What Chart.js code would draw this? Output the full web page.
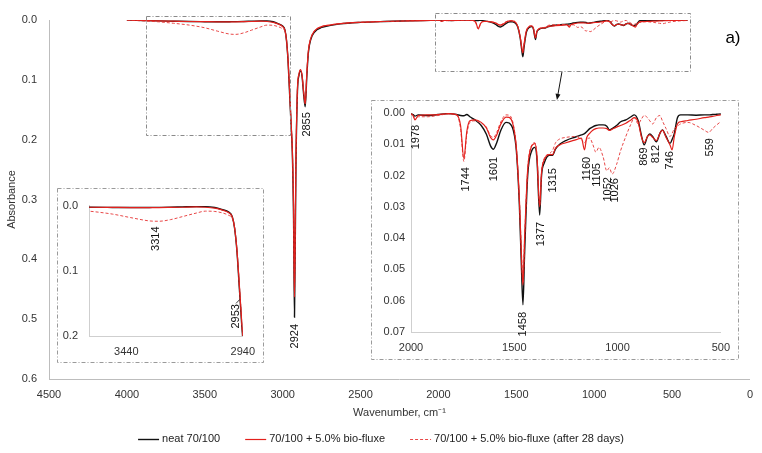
<!DOCTYPE html>
<html><head><meta charset="utf-8">
<script src="https://cdn.jsdelivr.net/npm/chart.js@4/dist/chart.umd.min.js"></script>
<style>
html,body{margin:0;padding:0;background:#fff;}
#wrap{position:relative;width:762px;height:453px;overflow:hidden;}
canvas{position:absolute;display:block;}
#main{left:0;top:0;}
#insetR{left:371px;top:100px;}
#insetL{left:57px;top:188px;}
</style></head><body>
<div id="wrap">
<canvas id="main" width="762" height="453"></canvas>
<canvas id="insetR" width="368" height="260"></canvas>
<canvas id="insetL" width="207" height="175"></canvas>
</div>
<script>
// ---------- data ----------
const wavenumbers = [4000,3900,3800,3700,3600,3500,3420,3340,3300,3250,3200,3140,3100,3060,3030,3000,2985,2975,2965,2955,2945,2938,2930,2924,2915,2905,2895,2885,2875,2865,2855,2845,2835,2820,2795,2750,2700,2630,2500,2350,2200,2050,2000,1990,1981,1965,1920,1870,1820,1780,1760,1744,1730,1715,1690,1660,1635,1615,1601,1585,1565,1540,1525,1505,1490,1475,1465,1458,1450,1435,1415,1400,1390,1377,1368,1355,1330,1315,1300,1280,1250,1200,1175,1160,1150,1135,1120,1105,1090,1070,1052,1040,1026,1005,985,960,935,919,900,885,871,855,844,830,812,795,783,765,746,736,725,710,695,660,620,580,559,540,520,500,450,400];
const neat = [0.0000,0.0008,0.0015,0.0020,0.0025,0.0028,0.0030,0.0028,0.0027,0.0025,0.0020,0.0015,0.0015,0.0030,0.0060,0.0100,0.0170,0.0350,0.0700,0.1250,0.1800,0.2200,0.3300,0.4970,0.2500,0.1200,0.0920,0.0850,0.0950,0.1250,0.1450,0.0950,0.0550,0.0330,0.0200,0.0125,0.0095,0.0065,0.0040,0.0025,0.0015,0.0006,0.0003,0.0005,0.0010,0.0006,0.0008,0.0005,0.0002,0.0005,0.0008,0.0009,0.0005,0.0012,0.0022,0.0040,0.0068,0.0105,0.0116,0.0095,0.0055,0.0030,0.0032,0.0055,0.0120,0.0300,0.0500,0.0613,0.0450,0.0200,0.0120,0.0110,0.0150,0.0326,0.0200,0.0160,0.0135,0.0135,0.0115,0.0100,0.0088,0.0076,0.0070,0.0066,0.0060,0.0050,0.0044,0.0040,0.0038,0.0038,0.0042,0.0054,0.0050,0.0040,0.0028,0.0022,0.0012,0.0006,0.0025,0.0070,0.0102,0.0075,0.0067,0.0075,0.0092,0.0065,0.0054,0.0075,0.0097,0.0085,0.0065,0.0015,0.0006,0.0006,0.0007,0.0006,0.0006,0.0005,0.0004,0.0003,0.0003,0.0002];
const bio = [0.0000,0.0008,0.0015,0.0020,0.0025,0.0028,0.0030,0.0030,0.0030,0.0028,0.0025,0.0020,0.0025,0.0040,0.0065,0.0110,0.0175,0.0340,0.0680,0.1200,0.1750,0.2150,0.3100,0.4630,0.2400,0.1150,0.0900,0.0830,0.0930,0.1200,0.1400,0.0900,0.0520,0.0310,0.0180,0.0110,0.0085,0.0060,0.0038,0.0025,0.0015,0.0006,0.0003,0.0008,0.0022,0.0008,0.0006,0.0005,0.0002,0.0005,0.0040,0.0145,0.0060,0.0025,0.0022,0.0030,0.0048,0.0078,0.0086,0.0070,0.0035,0.0013,0.0014,0.0040,0.0110,0.0280,0.0460,0.0550,0.0400,0.0180,0.0105,0.0098,0.0140,0.0300,0.0190,0.0150,0.0133,0.0133,0.0112,0.0102,0.0095,0.0085,0.0080,0.0118,0.0080,0.0065,0.0055,0.0050,0.0048,0.0048,0.0050,0.0056,0.0052,0.0045,0.0040,0.0033,0.0022,0.0015,0.0030,0.0075,0.0095,0.0075,0.0070,0.0078,0.0088,0.0065,0.0055,0.0078,0.0102,0.0118,0.0075,0.0035,0.0028,0.0024,0.0020,0.0015,0.0013,0.0011,0.0008,0.0006,0.0005,0.0003];
const bioAged = [0.0000,0.0015,0.0030,0.0055,0.0085,0.0130,0.0185,0.0235,0.0240,0.0215,0.0170,0.0115,0.0085,0.0090,0.0110,0.0150,0.0195,0.0340,0.0680,0.1200,0.1750,0.2150,0.3100,0.4600,0.2400,0.1150,0.0900,0.0830,0.0930,0.1200,0.1400,0.0900,0.0520,0.0310,0.0180,0.0110,0.0085,0.0060,0.0038,0.0025,0.0015,0.0006,0.0005,0.0010,0.0018,0.0012,0.0012,0.0008,0.0003,0.0006,0.0050,0.0155,0.0070,0.0030,0.0025,0.0032,0.0045,0.0072,0.0078,0.0062,0.0028,0.0006,0.0007,0.0035,0.0110,0.0280,0.0450,0.0545,0.0400,0.0180,0.0102,0.0095,0.0135,0.0295,0.0190,0.0145,0.0130,0.0120,0.0095,0.0083,0.0078,0.0075,0.0085,0.0095,0.0085,0.0080,0.0100,0.0125,0.0110,0.0140,0.0185,0.0175,0.0195,0.0165,0.0120,0.0075,0.0035,0.0015,0.0035,0.0020,0.0008,0.0015,0.0025,0.0035,0.0015,0.0008,0.0025,0.0050,0.0075,0.0065,0.0050,0.0042,0.0035,0.0030,0.0040,0.0055,0.0062,0.0050,0.0038,0.0028,0.0015,0.0008];
const seriesNames = ['neat 70/100', '70/100 + 5.0% bio-fluxe', '70/100 + 5.0% bio-fluxe (after 28 days)'];

const mainXTicks = [4500,4000,3500,3000,2500,2000,1500,1000,500,0];
const mainYTicks = [0.0,0.1,0.2,0.3,0.4,0.5,0.6];
const rightXTicks = [2000,1500,1000,500];
const rightYTicks = [0.00,0.01,0.02,0.03,0.04,0.05,0.06,0.07];
const leftXTicks = [3440,2940];
const leftYTicks = [0.0,0.1,0.2];

const mainPeaks = ['2924','2855'];
const rightPeaks = ['1978','1744','1601','1458','1377','1315','1160','1105','1052','1026','869','812','746','559'];
const leftPeaks = ['3314','2953'];

// ---------- helpers ----------
const FONT = "'Liberation Sans', Arial, sans-serif";
Chart.defaults.font.family = FONT;
Chart.defaults.color = '#333';

function pts(vals){ return wavenumbers.map((w,i)=>({x:w, y:vals[i]})); }
function datasets(){
  return [
    {label:seriesNames[0], data:pts(neat), borderColor:'#111111', borderWidth:1.4, order:3},
    {label:seriesNames[1], data:pts(bio), borderColor:'#e3201c', borderWidth:1.2, order:1},
    {label:seriesNames[2], data:pts(bioAged), borderColor:'#e84848', borderWidth:1, borderDash:[3,2], order:2}
  ].map(d=>Object.assign(d,{pointRadius:0, pointHoverRadius:0, showLine:true, fill:false, cubicInterpolationMode:'monotone'}));
}
function fixedTicks(list){ return function(scale){ scale.ticks = list.map(v=>({value:v})); }; }

function dashDotRect(ctx,x,y,w,h,color){
  ctx.save();
  ctx.strokeStyle = color; ctx.lineWidth = 1; ctx.setLineDash([4,2,1,2]);
  ctx.strokeRect(Math.round(x)+0.5, Math.round(y)+0.5, Math.round(w), Math.round(h));
  ctx.restore();
}

const decor = {
  id:'decor',
  afterDatasetsDraw(chart, args, o){
    const ctx = chart.ctx, xs = chart.scales.x, ys = chart.scales.y;
    ctx.save();
    if (o.frame) dashDotRect(ctx,0,0,chart.width-1,chart.height-1,'#9a9a9a');
    (o.boxes||[]).forEach(b=>{
      const x1 = xs.getPixelForValue(b[0]), x2 = xs.getPixelForValue(b[1]);
      const y1 = ys.getPixelForValue(b[2]), y2 = ys.getPixelForValue(b[3]);
      dashDotRect(ctx, Math.min(x1,x2), Math.min(y1,y2), Math.abs(x2-x1), Math.abs(y2-y1), '#8a8a8a');
    });
    ctx.fillStyle = '#111'; ctx.strokeStyle = '#111';
    (o.leaders||[]).forEach(l=>{
      ctx.beginPath(); ctx.lineWidth = 0.8;
      ctx.moveTo(xs.getPixelForValue(l[0]), ys.getPixelForValue(l[1]));
      ctx.lineTo(xs.getPixelForValue(l[2]), ys.getPixelForValue(l[3]));
      ctx.stroke();
    });
    ctx.font = (o.labelSize||11)+'px '+FONT;
    (o.labels||[]).forEach(l=>{
      const px = xs.getPixelForValue(l.x), py = ys.getPixelForValue(l.y);
      ctx.save(); ctx.translate(px,py); ctx.rotate(-Math.PI/2);
      ctx.textAlign='right'; ctx.textBaseline='middle';
      ctx.fillText(l.text,0,0); ctx.restore();
    });
    if (o.arrow){
      const a = o.arrow;
      const x1 = xs.getPixelForValue(a[0]), y1 = ys.getPixelForValue(a[1]);
      const x2 = xs.getPixelForValue(a[2]), y2 = ys.getPixelForValue(a[3]);
      const ang = Math.atan2(y2-y1,x2-x1);
      ctx.beginPath(); ctx.lineWidth=1; ctx.moveTo(x1,y1); ctx.lineTo(x2-5*Math.cos(ang),y2-5*Math.sin(ang)); ctx.stroke();
      ctx.beginPath(); ctx.moveTo(x2,y2);
      ctx.lineTo(x2-6*Math.cos(ang)+2.5*Math.sin(ang), y2-6*Math.sin(ang)-2.5*Math.cos(ang));
      ctx.lineTo(x2-6*Math.cos(ang)-2.5*Math.sin(ang), y2-6*Math.sin(ang)+2.5*Math.cos(ang));
      ctx.closePath(); ctx.fill();
    }
    if (o.tag){
      ctx.font = '17px '+FONT; ctx.textAlign='center'; ctx.textBaseline='middle'; ctx.fillStyle='#000';
      ctx.fillText(o.tag.text, xs.getPixelForValue(o.tag.x), ys.getPixelForValue(o.tag.y));
    }
    if (o.legend){
      ctx.font = '11px '+FONT; ctx.textBaseline='middle'; ctx.textAlign='left'; ctx.fillStyle='#222';
      const items = chart.data.datasets;
      const lineLen=21, gap=3, spacing=25;
      let total = 0;
      items.forEach((d,i)=>{ total += lineLen+gap+ctx.measureText(d.label).width + (i?spacing:0); });
      let x = o.legend.cx - total/2; const y = o.legend.y;
      items.forEach(d=>{
        ctx.save(); ctx.strokeStyle=d.borderColor; ctx.lineWidth=d.borderWidth; ctx.setLineDash(d.borderDash||[]);
        ctx.beginPath(); ctx.moveTo(x,y+0.5); ctx.lineTo(x+lineLen,y+0.5); ctx.stroke(); ctx.restore();
        x += lineLen+gap;
        ctx.fillText(d.label, x, y);
        x += ctx.measureText(d.label).width + spacing;
      });
    }
    ctx.restore();
  }
};

const axisBorder = c => ({display:true, color:c, width:1});

// ---------- main chart ----------
new Chart(document.getElementById('main'), {
  type:'scatter',
  data:{datasets:datasets()},
  plugins:[decor],
  options:{
    responsive:false, animation:false, events:[],
    layout:{padding:{left:0,right:12,top:20,bottom:0}},
    scales:{
      x:{type:'linear', reverse:true, min:0, max:4500,
        afterBuildTicks:fixedTicks(mainXTicks),
        afterFit(s){ s.height = 74; },
        ticks:{font:{size:11}, color:'#333', padding:9, maxRotation:0, autoSkip:false, callback:v=>String(v)},
        grid:{display:false, drawTicks:false}, border:axisBorder('#bdbdbd'),
        title:{display:true, text:'Wavenumber, cm⁻¹', font:{size:11}, color:'#333', padding:{top:0,bottom:33}}},
      y:{type:'linear', reverse:true, min:0, max:0.6,
        afterBuildTicks:fixedTicks(mainYTicks),
        afterFit(s){ s.width = 49; },
        ticks:{font:{size:11}, color:'#333', padding:12, callback:v=>v.toFixed(1)},
        grid:{display:false, drawTicks:false}, border:axisBorder('#bdbdbd'),
        title:{display:true, text:'Absorbance', font:{size:11}, color:'#333', padding:{top:5.4,bottom:0}}}
    },
    plugins:{
      legend:{display:false}, tooltip:{enabled:false},
      decor:{
        boxes:[[3877,2953,-0.0067,0.192],[2022,385,-0.0117,0.085]],
        labels:[{text:mainPeaks[0],x:2924,y:0.508},{text:mainPeaks[1],x:2846,y:0.154}],
        labelSize:11,
        arrow:[1207,0.087,1239,0.1335],
        tag:{text:'a)',x:109,y:0.030},
        legend:{cx:381,y:439}
      }
    }
  }
});

// ---------- right inset (fingerprint region) ----------
new Chart(document.getElementById('insetR'), {
  type:'scatter',
  data:{datasets:datasets()},
  plugins:[decor],
  options:{
    responsive:false, animation:false, events:[],
    layout:{padding:{left:0,right:17,top:13,bottom:0}},
    scales:{
      x:{type:'linear', reverse:true, min:500, max:2000,
        afterBuildTicks:fixedTicks(rightXTicks),
        afterFit(s){ s.height = 28; },
        ticks:{font:{size:11}, color:'#333', padding:9, maxRotation:0, autoSkip:false, callback:v=>String(v)},
        grid:{display:false, drawTicks:false}, border:axisBorder('#cfcfcf')},
      y:{type:'linear', reverse:true, min:0, max:0.07,
        afterBuildTicks:fixedTicks(rightYTicks),
        afterFit(s){ s.width = 40; },
        ticks:{font:{size:11}, color:'#333', padding:6, callback:v=>v.toFixed(2)},
        grid:{display:false, drawTicks:false}, border:axisBorder('#cfcfcf')}
    },
    plugins:{
      legend:{display:false}, tooltip:{enabled:false},
      decor:{
        frame:true, labelSize:11,
        labels:[
          {text:rightPeaks[0],x:1976,y:0.0038},{text:rightPeaks[1],x:1736,y:0.0173},
          {text:rightPeaks[2],x:1598,y:0.0140},{text:rightPeaks[3],x:1458,y:0.0636},
          {text:rightPeaks[4],x:1373,y:0.0348},{text:rightPeaks[5],x:1314,y:0.0176},
          {text:rightPeaks[6],x:1150,y:0.0140},{text:rightPeaks[7],x:1101,y:0.0160},
          {text:rightPeaks[8],x:1045,y:0.0205},{text:rightPeaks[9],x:1011,y:0.0208},
          {text:rightPeaks[10],x:871,y:0.0110},{text:rightPeaks[11],x:812,y:0.0102},
          {text:rightPeaks[12],x:746,y:0.0122},{text:rightPeaks[13],x:554,y:0.0080}
        ]
      }
    }
  }
});

// ---------- left inset (O-H / C-H region) ----------
new Chart(document.getElementById('insetL'), {
  type:'scatter',
  data:{datasets:datasets()},
  plugins:[decor],
  options:{
    responsive:false, animation:false, events:[],
    layout:{padding:{left:0,right:21,top:12,bottom:0}},
    scales:{
      x:{type:'linear', reverse:true, min:2940, max:3600,
        afterBuildTicks:fixedTicks(leftXTicks),
        afterFit(s){ s.height = 27; },
        ticks:{font:{size:11}, color:'#333', padding:9, maxRotation:0, autoSkip:false, callback:v=>String(v)},
        grid:{display:false, drawTicks:false}, border:axisBorder('#cfcfcf')},
      y:{type:'linear', reverse:true, min:0, max:0.2,
        afterBuildTicks:fixedTicks(leftYTicks),
        afterFit(s){ s.width = 32; },
        ticks:{font:{size:11}, color:'#333', padding:11, callback:v=>v.toFixed(1)},
        grid:{display:false, drawTicks:false}, border:axisBorder('#cfcfcf')}
    },
    plugins:{
      legend:{display:false}, tooltip:{enabled:false},
      decor:{
        frame:true, labelSize:11,
        labels:[{text:leftPeaks[0],x:3313,y:0.032},{text:leftPeaks[1],x:2971,y:0.151}],
        leaders:[[2969,0.150,2953,0.144]]
      }
    }
  }
});
</script>
</body></html>
